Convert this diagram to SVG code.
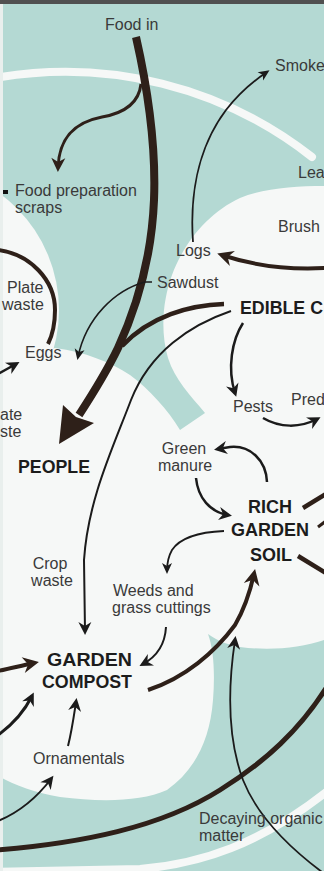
<svg xmlns="http://www.w3.org/2000/svg" width="324" height="871" viewBox="0 0 324 871">
<style>
.t{font-family:"Liberation Sans",Arial,sans-serif;font-size:16px;fill:#3a3a3a}
.b{font-family:"Liberation Sans",Arial,sans-serif;font-size:18px;font-weight:bold;fill:#1c1c1c}
.br{fill:none;stroke:#2e2019;stroke-linecap:butt}
.dk{fill:none;stroke:#1b1b1b;stroke-linecap:butt}
</style>
<defs>
<marker id="as" markerUnits="userSpaceOnUse" viewBox="-15 -10 25 20" markerWidth="25" markerHeight="20" refX="0" refY="0" orient="auto"><path d="M3,0 L-8,-5 L-5,0 L-8,5 Z" fill="#1b1b1b"/></marker>
<marker id="am" markerUnits="userSpaceOnUse" viewBox="-15 -10 25 20" markerWidth="25" markerHeight="20" refX="0" refY="0" orient="auto"><path d="M4,0 L-9,-6.5 L-5,0 L-9,6.5 Z" fill="#1b1b1b"/></marker>
<marker id="amb" markerUnits="userSpaceOnUse" viewBox="-15 -10 25 20" markerWidth="25" markerHeight="20" refX="0" refY="0" orient="auto"><path d="M4,0 L-10,-7 L-6,0 L-10,7 Z" fill="#2e2019"/></marker>
<marker id="alb" markerUnits="userSpaceOnUse" viewBox="-15 -10 25 20" markerWidth="25" markerHeight="20" refX="0" refY="0" orient="auto"><path d="M5,0 L-11,-8 L-6,0 L-11,8 Z" fill="#2e2019"/></marker>
</defs>
<g id="background">
<rect x="0" y="0" width="324" height="871" fill="#b4d9d3"/>
<circle cx="-85" cy="310" r="144" fill="#f6f8f7"/>
<path d="M0,370 L55,348 C85,352 110,362 130,375 C150,390 168,410 180,430 L205,413 C190,395 175,380 168,358 C160,330 163,300 172,275 C185,240 210,212 240,198 C265,188 295,186 324,186 L324,640 C300,648 270,651 240,647 C228,645 218,641 208,634 C214,650 215,675 213,700 C210,740 195,770 167,790 C140,802 100,802 60,797 C35,793 15,785 0,777 Z" fill="#f6f8f7"/>
<path d="M-5,78 A399,399 0 0 1 312,157" fill="none" stroke="#f6f8f7" stroke-width="8" stroke-linecap="round"/>
<path d="M-10,872 L140,869 C200,864 260,845 330,789" fill="none" stroke="#f6f8f7" stroke-width="8"/>
<rect x="0" y="0" width="324" height="4" fill="#505050"/>
<rect x="0" y="4" width="3" height="867" fill="#e9efed"/>
</g>
<g id="connectors">
<path class="br" d="M136,37 C148,90 156,150 154,200 C152,250 140,300 118,348 C105,375 92,395 79,415" stroke-width="8"/>
<polygon points="59,444 63,405 76,417 94,423" fill="#2e2019"/>
<path class="br" d="M141,84 C139,102 125,113 102,117 C76,122 59,136 58,168" stroke-width="3" marker-end="url(#amb)"/>
<path class="br" d="M224,304 C190,305 150,316 122,346" stroke-width="4.5"/>
<path class="br" d="M326,268 C292,270 258,267 222,255" stroke-width="4" marker-end="url(#alb)"/>
<path class="dk" d="M193,242 C190,200 196,150 226,110 C240,92 252,82 267,72" stroke-width="1.8" marker-end="url(#as)"/>
<path class="dk" d="M152,282 L145,282 C115,290 86,318 78,357" stroke-width="1.5" marker-end="url(#as)"/>
<path class="br" d="M-2,250 C30,254 55,280 55,310 C55,325 52,336 48,344" stroke-width="4"/>
<path class="dk" d="M-2,374 L16,364" stroke-width="2.5" marker-end="url(#am)"/>
<path class="dk" d="M231,311 C190,325 150,352 131,400 C112,450 88,500 84,560 L85,631" stroke-width="2" marker-end="url(#am)"/>
<path class="dk" d="M243,323 C232,340 227,368 235,393" stroke-width="2.5" marker-end="url(#am)"/>
<path class="dk" d="M263,418 C280,428 300,428 317,419" stroke-width="2.5" marker-end="url(#am)"/>
<path class="dk" d="M267,482 C266,460 250,445 230,447 L218,449" stroke-width="2.5" marker-end="url(#am)"/>
<path class="dk" d="M196,478 C198,498 210,512 228,515" stroke-width="2.5" marker-end="url(#am)"/>
<path class="dk" d="M224,531 C200,532 180,538 172,550 C168,557 167,563 167,571" stroke-width="1.8" marker-end="url(#as)"/>
<path class="dk" d="M166,627 C165,645 156,657 143,664" stroke-width="2" marker-end="url(#am)"/>
<path class="br" d="M148,690 C185,678 215,652 235,625 C245,608 250,592 254,574" stroke-width="4" marker-end="url(#alb)"/>
<path class="br" d="M-2,671 C12,668 24,665 34,663" stroke-width="4" marker-end="url(#alb)"/>
<path class="dk" d="M-2,735 C12,725 25,710 32,696" stroke-width="3" marker-end="url(#am)"/>
<path class="dk" d="M68,746 C72,730 74,715 76,702" stroke-width="2" marker-end="url(#am)"/>
<path class="dk" d="M-2,821 C20,812 38,796 51,779" stroke-width="2" marker-end="url(#am)"/>
<path class="br" d="M-2,850 C80,843 160,828 220,790 C265,762 300,730 328,685" stroke-width="5"/>
<path class="dk" d="M322,872 C290,848 258,818 243,780 C230,745 226,700 235,640" stroke-width="1.8" marker-end="url(#am)"/>
<path class="br" d="M303,508 L326,494" stroke-width="4.5"/>
<path class="br" d="M318,527 L326,521" stroke-width="3"/>
<path class="br" d="M298,556 L326,573" stroke-width="4.5"/>
<rect x="3" y="190" width="5" height="4" fill="#111"/>
</g>
<g id="food-in"><text class="t" x="105" y="30">Food in</text></g>
<g id="smoke"><text class="t" x="275" y="71" font-size="15.5">Smoke</text></g>
<g id="leaves"><text class="t" x="298" y="178" font-size="15">Lea</text></g>
<g id="food-prep"><text class="t" x="15" y="196">Food preparation</text><text class="t" x="15" y="212.5">scraps</text></g>
<g id="brush"><text class="t" x="278" y="232">Brush</text></g>
<g id="logs"><text class="t" x="176" y="256">Logs</text></g>
<g id="sawdust"><text class="t" x="157" y="288">Sawdust</text></g>
<g id="edible-crops"><text class="b" x="240" y="314" font-size="19" textLength="83" lengthAdjust="spacingAndGlyphs">EDIBLE C</text></g>
<g id="plate-waste"><text class="t" x="7" y="293">Plate</text><text class="t" x="2" y="310">waste</text></g>
<g id="eggs"><text class="t" x="25" y="358">Eggs</text></g>
<g id="plate-waste-2"><text class="t" x="0" y="420">ate</text><text class="t" x="0" y="436.5">ste</text></g>
<g id="people"><text class="b" x="18" y="473" font-size="21" textLength="72" lengthAdjust="spacingAndGlyphs">PEOPLE</text></g>
<g id="pests"><text class="t" x="233" y="412">Pests</text></g>
<g id="predators"><text class="t" x="291" y="405" font-size="15.5">Pred</text></g>
<g id="green-manure"><text class="t" x="184" y="454" text-anchor="middle">Green</text><text class="t" x="185" y="471" text-anchor="middle">manure</text></g>
<g id="rich-garden-soil"><text class="b" x="270" y="513" text-anchor="middle">RICH</text><text class="b" x="270" y="536" text-anchor="middle">GARDEN</text><text class="b" x="271" y="561" text-anchor="middle">SOIL</text></g>
<g id="crop-waste"><text class="t" x="50" y="569" text-anchor="middle">Crop</text><text class="t" x="52" y="586" text-anchor="middle">waste</text></g>
<g id="weeds"><text class="t" x="113" y="596">Weeds and</text><text class="t" x="112" y="612.5">grass cuttings</text></g>
<g id="garden-compost"><text class="b" x="47" y="666" font-size="21" textLength="85" lengthAdjust="spacingAndGlyphs">GARDEN</text><text class="b" x="42" y="688" font-size="21" textLength="90" lengthAdjust="spacingAndGlyphs">COMPOST</text></g>
<g id="ornamentals"><text class="t" x="33" y="764">Ornamentals</text></g>
<g id="decaying"><text class="t" x="199" y="824">Decaying organic</text><text class="t" x="199" y="840.5">matter</text></g>
</svg>
